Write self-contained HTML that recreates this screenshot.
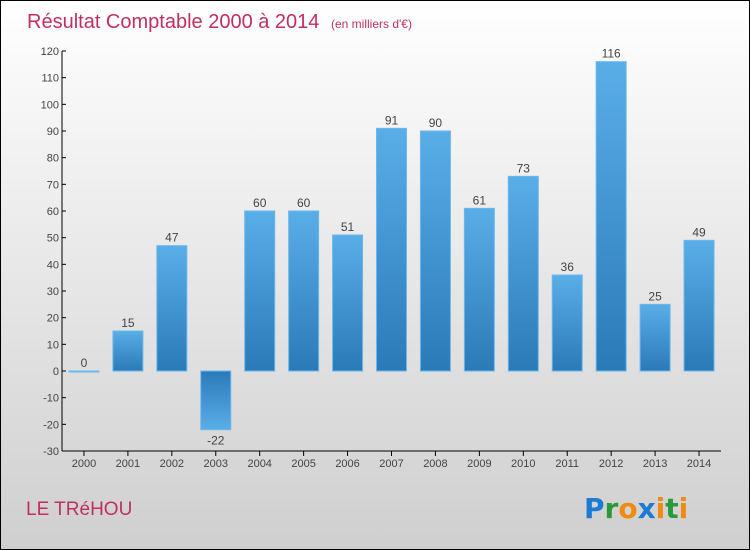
<!DOCTYPE html>
<html><head><meta charset="utf-8"><style>
body{margin:0}
#c{width:750px;height:550px;position:relative;box-sizing:border-box;border:1px solid #000;background:linear-gradient(#fff,#cfcfcf);font-family:"Liberation Sans",sans-serif;overflow:hidden}
</style></head><body>
<div id="c">
<svg width="748" height="548" style="position:absolute;left:0;top:0">
<defs>
<linearGradient id="gp" x1="0" y1="0" x2="0" y2="1"><stop offset="0" stop-color="#5aaee8"/><stop offset="1" stop-color="#2a7ab8"/></linearGradient>
<linearGradient id="gn" x1="0" y1="0" x2="0" y2="1"><stop offset="0" stop-color="#2a7ab8"/><stop offset="1" stop-color="#5aaee8"/></linearGradient>
</defs>
<text x="26" y="27" font-size="20" fill="#c0305e">Résultat Comptable 2000 à 2014 <tspan font-size="12" dx="6">(en milliers d'€)</tspan></text>
<text x="25" y="514" font-size="19" fill="#c0305e">LE TRéHOU</text>
<g font-size="28" font-weight="bold" font-family="'DejaVu Sans',sans-serif">
<text x="583" y="517" fill="#1a7ad4">P<tspan fill="#2a9a3a">r</tspan><tspan fill="#f08a10">o</tspan><tspan fill="#1a7ad4">x</tspan><tspan fill="#f08a10">i</tspan><tspan fill="#2a9a3a">t</tspan><tspan fill="#f08a10">i</tspan></text>
</g>
<g id="plot"></g>
</svg>
</div>
<script>
const years=["2000","2001","2002","2003","2004","2005","2006","2007","2008","2009","2010","2011","2012","2013","2014"];
const values=[0,15,47,-22,60,60,51,91,90,61,73,36,116,25,49];
const yTicks=[-30,-20,-10,0,10,20,30,40,50,60,70,80,90,100,110,120];
const NS="http://www.w3.org/2000/svg";
const g=document.getElementById('plot');
const x0=61,x1=720,yMin=-30,yMax=120,py0=450,py1=50;
const y=v=>py0-(v-yMin)/(yMax-yMin)*(py0-py1);
const band=(x1-x0)/years.length;
const xc=i=>x0+band*(i+0.5);
function mk(t,a){const e=document.createElementNS(NS,t);for(const k in a)e.setAttribute(k,a[k]);g.appendChild(e);return e;}
values.forEach((v,i)=>{
 const top=Math.min(y(v),y(0)),h=Math.max(Math.abs(y(v)-y(0)),1);
 const r=mk('rect',{x:xc(i)-15,y:top,width:30,height:h,fill:v<0?'url(#gn)':'url(#gp)',stroke:'#6ab8ee','stroke-width':1});
 
 
 const t=mk('text',{x:xc(i),y:v<0?y(v)+15:y(v)-4,'text-anchor':'middle','font-size':12,fill:'#444'});
 t.textContent=values[i];
 
 
 const tk=mk('line',{x1:xc(i),x2:xc(i),y1:py0,y2:py0+5,stroke:'#000'});
 
 
 const xl=mk('text',{x:xc(i),y:py0+16,'text-anchor':'middle','font-size':11,fill:'#444'});
 xl.textContent=years[i];
 
 
});
yTicks.forEach(v=>{
 const l=mk('line',{x1:x0,x2:x0+4,y1:y(v),y2:y(v),stroke:'#000'});
 
 
 const t=mk('text',{x:x0-3,y:y(v)+4,'text-anchor':'end','font-size':11,fill:'#444'});
 t.textContent=v;
 
 
});
const ya=mk('line',{x1:x0,x2:x0,y1:py1,y2:py0,stroke:'#000'});


const xa=mk('line',{x1:x0,x2:x1,y1:py0,y2:py0,stroke:'#000'});


</script>
</body></html>
